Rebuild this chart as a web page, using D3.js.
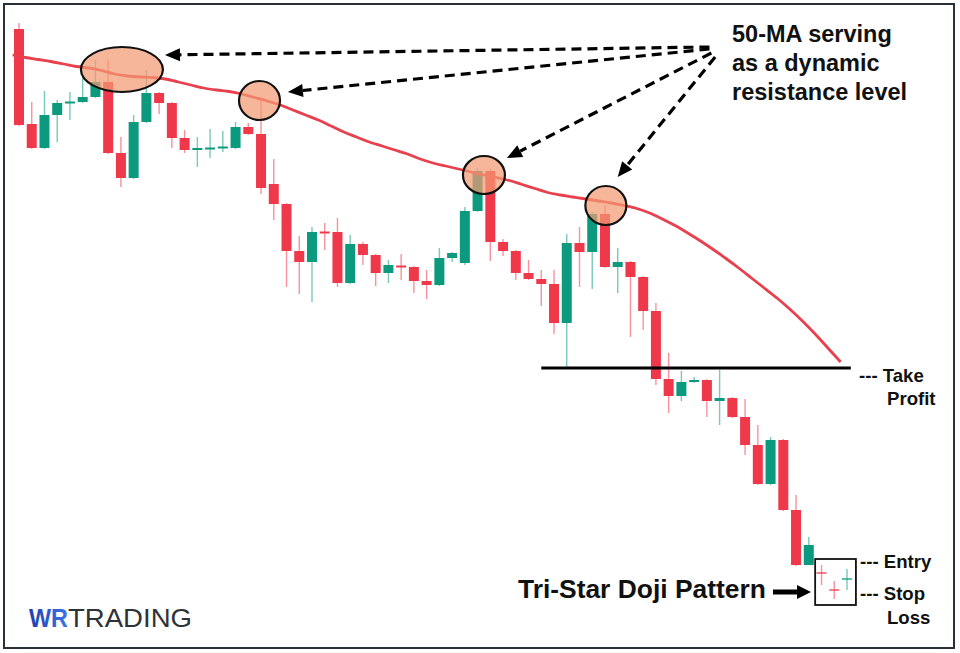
<!DOCTYPE html>
<html><head><meta charset="utf-8">
<script src="https://cdn.jsdelivr.net/npm/d3@7"></script>
<style>body{margin:0;background:#fff}svg{display:block}text{font-family:"Liberation Sans",Arial,sans-serif}</style>
</head><body><svg id="c" width="960" height="653"></svg>
<script>
// ---- data ----
const opens  = [67.1,57.6,55.2,58.5,59.75,59.8,60.3,61.8,54.7,52.2,57.8,60.7,59.7,56.2,55.1,55.15,55.25,55.2,57.3,56.6,51.6,49.6,44.9,43.8,46.85,46.8,41.7,45.6,44.5,42.7,43.45,43.3,41.9,41.5,44.2,43.7,48.9,52.9,45.8,44.9,42.7,42.1,41.6,37.7,45.7,44.8,48.6,43.3,43.8,42.3,38.9,32.1,30.4,31.8,32.0,29.9,30.2,28.3,25.5,21.6,26.0,19.0,13.5,12.75,11.05,12.05];
const highs  = [67.7,59.8,60.9,60.0,60.8,62.3,64.0,64.0,56.3,58.5,63.0,60.8,59.8,57.0,56.3,57.1,56.9,57.8,57.7,60.0,54.1,49.7,46.4,47.3,47.7,48.2,46.5,45.8,44.6,44.0,44.6,43.4,43.0,45.2,44.8,49.3,53.2,53.1,46.1,45.0,44.0,43.0,43.0,46.6,47.3,48.8,49.5,45.2,43.9,42.4,39.7,34.7,32.9,32.3,32.1,33.0,30.3,30.1,27.5,26.3,26.1,20.5,16.3,13.5,11.9,13.1];
const lows   = [57.4,55.1,55.1,55.8,58.0,59.7,60.2,54.6,51.3,52.1,57.7,58.6,55.2,54.7,53.3,54.2,54.8,55.1,56.5,50.6,48.0,41.3,40.6,39.8,45.0,41.3,41.6,43.5,41.4,41.7,42.0,40.7,40.1,41.4,43.8,43.5,48.8,43.9,44.4,42.0,42.0,39.4,36.6,33.3,41.3,41.1,43.2,40.7,36.3,37.0,31.5,28.7,29.9,31.7,28.3,27.5,28.2,24.5,21.5,21.5,18.9,13.4,13.5,11.5,10.1,11.0];
const closes = [57.5,55.2,58.5,59.7,59.85,60.3,61.8,54.7,52.2,57.8,60.7,59.7,56.2,55.0,55.2,55.25,55.35,57.3,56.6,51.2,49.6,44.9,43.8,46.8,46.75,41.7,45.6,44.5,42.7,43.5,43.3,41.9,41.5,44.2,44.7,48.9,52.9,45.8,44.9,42.7,42.1,41.6,37.7,45.7,44.8,48.6,43.3,43.8,42.3,38.9,32.1,30.4,31.8,32.0,29.9,30.2,28.3,25.5,21.6,26.0,19.0,13.5,15.5,12.65,10.95,12.15];
// 50-period moving average, sampled between candles (index - 0.5)
const ma50 = [64.5,64.25,64.05,63.85,63.6,63.35,63.2,62.95,62.6,62.4,62.3,62.25,62.1,61.8,61.5,61.2,61.0,60.85,60.6,60.25,59.9,59.5,59.0,58.5,58.0,57.4,56.8,56.3,55.8,55.4,55.0,54.6,54.1,53.7,53.4,53.1,52.8,52.5,52.25,51.95,51.55,51.15,50.75,50.5,50.3,50.1,49.9,49.7,49.45,49.15,48.7,48.1,47.45,46.7,45.9,45.05,44.15,43.2,42.2,41.2,40.2,39.1,37.9,36.6,35.2,33.8];
const takeProfit = 33.2;
const tpRange = [41, 65.3];
// highlighted touches of the MA: [index, price, rx, ry]
const touches = [[8.08,63.05,41,22.5],[18.88,59.95,20.5,19.5],[36.5,52.5,21,19],[46.07,49.45,20.5,19.5]];
// arrows: tail [index, price] -> head [index, price]
const arrowTails = [[54.2,65.3],[54.2,65.1],[54.35,64.7],[54.65,64.3]];
const arrowHeads = [[11.46,64.5],[21.11,60.8],[38.3,54.2],[47.0,52.3]];
const patternBox = [62.5, 65.7, 14.1, 9.5];
const titleLines = ["50-MA serving","as a dynamic","resistance level"];

// ---- drawing ----
const RED = "#F0384B", GREEN = "#0C9A7E";
const svg = d3.select("#c");
const x = d3.scaleLinear().domain([0,65]).range([19,847]);
const y = d3.scaleLinear().domain([5,70]).range([650,0]);

svg.append("rect").attr("x",4).attr("y",4).attr("width",950).attr("height",644)
  .attr("fill","#fff").attr("stroke","#2b2f3a").attr("stroke-width",2);

const candles = opens.map((o,i)=>({i,o,h:highs[i],l:lows[i],c:closes[i]}));
const g = svg.append("g");
g.selectAll("line.w").data(candles).join("line").attr("class","w")
  .attr("x1",d=>x(d.i)).attr("x2",d=>x(d.i))
  .attr("y1",d=>y(d.h)).attr("y2",d=>y(d.l))
  .attr("stroke",d=>d.c>=d.o?GREEN:RED).attr("stroke-opacity",0.55).attr("stroke-width",1.4);
const bw = 10;
g.selectAll("rect.b").data(candles.filter(d=>d.i<63)).join("rect").attr("class","b")
  .attr("x",d=>x(d.i)-bw/2).attr("width",bw)
  .attr("y",d=>y(Math.max(d.o,d.c)))
  .attr("height",d=>Math.max(2,Math.abs(y(d.o)-y(d.c))))
  .attr("fill",d=>d.c>=d.o?GREEN:RED);
// doji crosses
g.selectAll("line.d").data(candles.filter(d=>d.i>=63)).join("line").attr("class","d")
  .attr("x1",d=>x(d.i)-5).attr("x2",d=>x(d.i)+5)
  .attr("y1",d=>y((d.o+d.c)/2)).attr("y2",d=>y((d.o+d.c)/2))
  .attr("stroke",d=>d.c>=d.o?GREEN:RED).attr("stroke-width",1.3);

// MA line
const maLine = d3.line().x((d,k)=>x(k-0.5)).y(d=>y(d)).curve(d3.curveMonotoneX);
svg.append("path").datum(ma50).attr("d",maLine).attr("fill","none")
  .attr("stroke","#E8404D").attr("stroke-width",2.8);

// ellipses
svg.selectAll("ellipse").data(touches).join("ellipse")
  .attr("cx",d=>x(d[0])).attr("cy",d=>y(d[1])).attr("rx",d=>d[2]).attr("ry",d=>d[3])
  .attr("fill","#F29A73").attr("fill-opacity",0.72)
  .attr("stroke","#111").attr("stroke-width",2.2);

// take profit line
svg.append("line").attr("x1",x(tpRange[0])).attr("x2",x(tpRange[1]))
  .attr("y1",y(takeProfit)).attr("y2",y(takeProfit))
  .attr("stroke","#000").attr("stroke-width",3);

// dashed arrows
arrowTails.forEach((t,k)=>{
  const h = arrowHeads[k];
  const x1=x(t[0]),y1=y(t[1]),x2=x(h[0]),y2=y(h[1]);
  const ang=Math.atan2(y2-y1,x2-x1), L=15, W=6.5;
  const bx=x2-L*Math.cos(ang), by=y2-L*Math.sin(ang);
  svg.append("line").attr("x1",x1).attr("y1",y1).attr("x2",bx).attr("y2",by)
    .attr("stroke","#000").attr("stroke-width",3.2).attr("stroke-dasharray","10,6");
  const px=-Math.sin(ang), py=Math.cos(ang);
  svg.append("polygon").attr("points",[[x2,y2],[bx+px*W,by+py*W],[bx-px*W,by-py*W]].map(p=>p.join(",")).join(" "))
    .attr("fill","#000");
});

// title text
svg.append("text").attr("x",732).attr("y",42).attr("font-size",23.5).attr("font-weight","bold").attr("fill","#111")
  .selectAll("tspan").data(titleLines).join("tspan").attr("x",732).attr("dy",(d,k)=>k?29:0).text(d=>d);

// right labels
const lab = (tx,ty,s)=>svg.append("text").attr("x",tx).attr("y",ty).attr("font-size",18.6).attr("font-weight","bold").attr("fill","#111").text(s);
lab(859,382,"--- Take"); lab(887,405,"Profit");
lab(860,568,"--- Entry"); lab(860,600,"--- Stop"); lab(887,624,"Loss");

// pattern box
svg.append("rect").attr("x",x(patternBox[0])).attr("y",y(patternBox[2]))
  .attr("width",x(patternBox[1])-x(patternBox[0])).attr("height",y(patternBox[3])-y(patternBox[2]))
  .attr("fill","none").attr("stroke","#111").attr("stroke-width",1.8);

svg.append("text").attr("x",518).attr("y",598).attr("font-size",26.4).attr("font-weight","bold").attr("fill","#111").text("Tri-Star Doji Pattern");
svg.append("line").attr("x1",773).attr("x2",798).attr("y1",592).attr("y2",592).attr("stroke","#000").attr("stroke-width",5);
svg.append("polygon").attr("points","811,592 797,585 797,599").attr("fill","#000");

// logo
const defs = svg.append("defs");
const gr = defs.append("linearGradient").attr("id","lg").attr("x1","0").attr("x2","1");
gr.append("stop").attr("offset","0").attr("stop-color","#1E3FB0");
gr.append("stop").attr("offset","1").attr("stop-color","#3F74E6");
svg.append("text").attr("x",29).attr("y",627).attr("font-size",26).attr("font-weight","bold")
  .attr("fill","url(#lg)").attr("textLength",39).attr("lengthAdjust","spacingAndGlyphs").text("WR");
svg.append("text").attr("x",68).attr("y",627).attr("font-size",26).attr("fill","#2f3236")
  .attr("textLength",124).attr("lengthAdjust","spacingAndGlyphs").text("TRADING");
</script></body></html>
